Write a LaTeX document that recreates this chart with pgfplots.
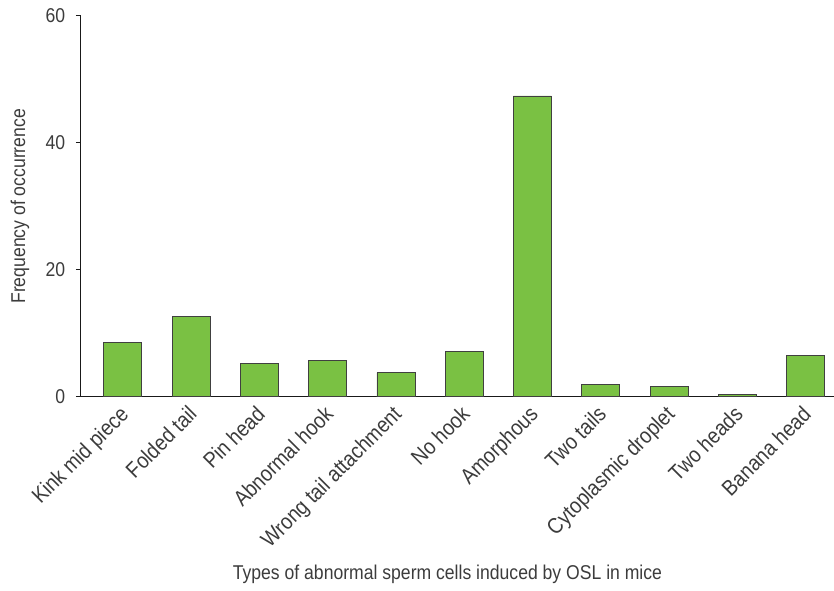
\documentclass[border=0pt]{standalone}
\usepackage{pgfplots}
\pgfplotsset{compat=1.18}
\usepackage{fontspec}
\setmainfont{Liberation Sans}[FakeStretch=0.88]
\definecolor{bargreen}{RGB}{122,193,67}
\definecolor{txtgray}{RGB}{60,60,60}
\begin{document}
\fontsize{20}{24}\selectfont
\begin{tikzpicture}
  \begin{axis}[
      scale only axis, width=753pt, height=381pt,
      axis lines*=left,
      axis line style={black!90, line width=1pt},
      ymin=0, ymax=60, ytick={0,20,40,60},
      xmin=-0.615, xmax=10.41,
      xtick=data,
      xticklabels={Kink mid piece,Folded tail,Pin head,Abnormal hook,Wrong tail attachment,No hook,Amorphous,Two tails,Cytoplasmic droplet,Two heads,Banana head},
      x tick style={draw=none},
      y tick style={black!90, line width=1pt},
      tick align=outside, major tick length=5pt,
      xticklabel style={xshift=7pt, yshift=-14pt, rotate=45, anchor=base east, inner sep=0pt, text=txtgray, font=\fontsize{22}{26}\selectfont},
      yticklabel style={text=txtgray, xshift=-4pt},
      /pgf/number format/assume math mode=true,
      ylabel={Frequency of occurrence},
      ylabel style={text=txtgray, at={(rel axis cs:0,0.5)}, anchor=center, yshift=61pt},
      xlabel={Types of abnormal sperm cells induced by OSL in mice},
      xlabel style={text=txtgray, at={(rel axis cs:0.487,0)}, anchor=center, yshift=-178pt},
      ybar, bar width=38pt,
    ]
    \addplot[fill=bargreen, draw=black!75, line width=0.9pt] coordinates {
      (0,8.5) (1,12.6) (2,5.3) (3,5.7) (4,3.8) (5,7.1)
      (6,47.4) (7,1.9) (8,1.6) (9,0.3) (10,6.5)
    };
    \coordinate (o) at (rel axis cs:0,0);
    \coordinate (tr) at (rel axis cs:1,1);
  \end{axis}
  \path ([xshift=-81pt, yshift=-190pt]o) rectangle ([yshift=16pt]tr);
\end{tikzpicture}
\end{document}
